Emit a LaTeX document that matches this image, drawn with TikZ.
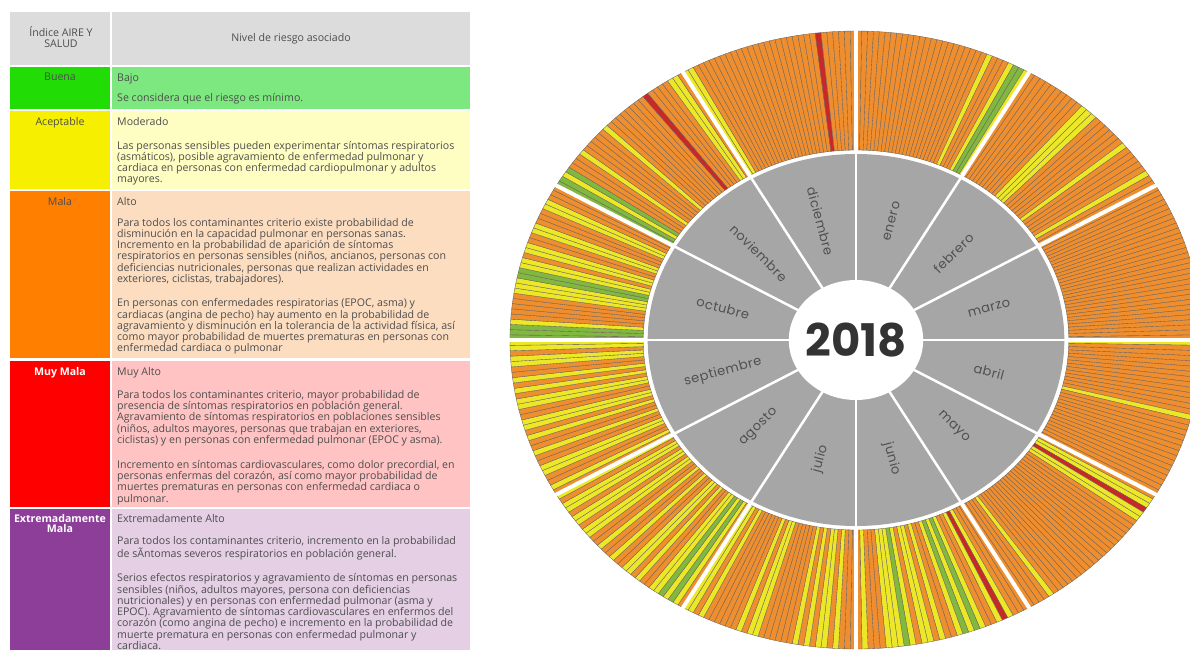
\documentclass[tikz,border=0pt]{standalone}
\usepackage{fontspec}
\setmainfont{Open Sans}
\newfontfamily\ringfont{Poppins}[LetterSpace=4]
\newfontfamily\yearfont{Poppins}

% colores de la tabla
\definecolor{headgray}{HTML}{DCDCDC}
\definecolor{bodytext}{HTML}{4D4D4D}
\definecolor{buenaA}{HTML}{22DC06}
\definecolor{buenaB}{HTML}{7DE87F}
\definecolor{aceptA}{HTML}{F6EF00}
\definecolor{aceptB}{HTML}{FFFEC2}
\definecolor{malaA}{HTML}{FF7F00}
\definecolor{malaB}{HTML}{FDDDC0}
\definecolor{muyA}{HTML}{FF0000}
\definecolor{muyB}{HTML}{FFC3C3}
\definecolor{extA}{HTML}{8C3E98}
\definecolor{extB}{HTML}{E4CFE4}
% colores del anillo
\definecolor{dayo}{HTML}{EF8E2F}
\definecolor{dayy}{HTML}{ECE828}
\definecolor{dayg}{HTML}{80B840}
\definecolor{dayr}{HTML}{C82828}
\definecolor{barline}{HTML}{6E645A}
\definecolor{ringgray}{HTML}{A6A6A6}
\definecolor{monthtext}{HTML}{505050}
\definecolor{yeartext}{HTML}{333333}

% el ancla base de un texto de varias lineas es la ultima linea
\tikzset{
	txt/.style={inner sep=0pt, anchor=base west, align=left, text=bodytext,
		font=\fontsize{10.6}{11.3}\selectfont},
	tag/.style={inner sep=0pt, anchor=base, align=center, text=bodytext,
		font=\fontsize{10.6}{10.7}\selectfont},
	month/.style={inner sep=0pt, text=monthtext, font=\ringfont\fontsize{13}{13}\selectfont},
	daybar/.style={draw=barline, line width=0.35pt},
}

\begin{document}
\begin{tikzpicture}[x=1pt, y=1pt]
	\useasboundingbox (0,0) rectangle (1190,-649);
	\clip (0,0) rectangle (1190,-649);

	% celdas de la tabla
	\fill [headgray] (  10, -12 ) rectangle ( 110, -65 );
	\fill [headgray] ( 112, -12 ) rectangle ( 470, -65 );
	\fill [buenaA]   (  10, -67 ) rectangle ( 110, -109 );
	\fill [buenaB]   ( 112, -67 ) rectangle ( 470, -109 );
	\fill [aceptA]   (  10, -111 ) rectangle ( 110, -189 );
	\fill [aceptB]   ( 112, -111 ) rectangle ( 470, -189 );
	\fill [malaA]    (  10, -191 ) rectangle ( 110, -358 );
	\fill [malaB]    ( 112, -191 ) rectangle ( 470, -358 );
	\fill [muyA]     (  10, -361 ) rectangle ( 110, -507 );
	\fill [muyB]     ( 112, -361 ) rectangle ( 470, -507 );
	\fill [extA]     (  10, -509 ) rectangle ( 110, -660 );
	\fill [extB]     ( 112, -509 ) rectangle ( 470, -660 );

	% encabezado
	\node [tag] (h-indice) at ( 61, -47.5 ) {Índice AIRE Y\\SALUD};
	\node [tag] (h-nivel) at ( 291, -41 ) {Nivel de riesgo asociado};

	% Buena
	\node [tag] (l-buena) at ( 60, -80.7 ) {Buena};
	\node [txt] (t-bajo) at ( 117, -81.7 ) {Bajo};
	\node [txt] (p-bajo) at ( 117, -101.7 ) {Se considera que el riesgo es mínimo.};

	% Aceptable
	\node [tag] (l-acept) at ( 60, -125 ) {Aceptable};
	\node [txt] (t-moderado) at ( 117, -125 ) {Moderado};
	\node [txt] (p-moderado) at ( 117, -182.9 ) {Las personas sensibles pueden experimentar síntomas respiratorios\\(asmáticos), posible agravamiento de enfermedad pulmonar y\\cardiaca en personas con enfermedad cardiopulmonar y adultos\\mayores.};

	% Mala
	\node [tag] (l-mala) at ( 60, -205 ) {Mala};
	\node [txt] (t-alto) at ( 117, -205 ) {Alto};
	\node [txt] (p-alto-a) at ( 117, -282.5 ) {Para todos los contaminantes criterio existe probabilidad de\\disminución en la capacidad pulmonar en personas sanas.\\Incremento en la probabilidad de aparición de síntomas\\respiratorios en personas sensibles (niños, ancianos, personas con\\deficiencias nutricionales, personas que realizan actividades en\\exteriores, ciclistas, trabajadores).};
	\node [txt] (p-alto-b) at ( 117, -351.9 ) {En personas con enfermedades respiratorias (EPOC, asma) y\\cardiacas (angina de pecho) hay aumento en la probabilidad de\\agravamiento y disminución en la tolerancia de la actividad física, así\\como mayor probabilidad de muertes prematuras en personas con\\enfermedad cardiaca o pulmonar};

	% Muy Mala
	\node [tag, text=white] (l-muymala) at ( 60, -375 ) {\bfseries Muy Mala};
	\node [txt] (t-muyalto) at ( 117, -375 ) {Muy Alto};
	\node [txt] (p-muyalto-a) at ( 117, -443.5 ) {Para todos los contaminantes criterio, mayor probabilidad de\\presencia de síntomas respiratorios en población general.\\Agravamiento de síntomas respiratorios en poblaciones sensibles\\(niños, adultos mayores, personas que trabajan en exteriores,\\ciclistas) y en personas con enfermedad pulmonar (EPOC y asma).};
	\node [txt] (p-muyalto-b) at ( 117, -502.2 ) {Incremento en síntomas cardiovasculares, como dolor precordial, en\\personas enfermas del corazón, así como mayor probabilidad de\\muertes prematuras en personas con enfermedad cardiaca o\\pulmonar.};

	% Extremadamente Mala
	\node [tag, text=white, font=\bfseries\fontsize{10.6}{10.7}\selectfont] (l-extmala) at ( 60, -532.7 ) {Extremadamente\\Mala};
	\node [txt] (t-extalto) at ( 117, -522 ) {Extremadamente Alto};
	\node [txt] (p-extalto-a) at ( 117, -557.3 ) {Para todos los contaminantes criterio, incremento en la probabilidad\\de sÃntomas severos respiratorios en población general.};
	\node [txt] (p-extalto-b) at ( 117, -649.5 ) {Serios efectos respiratorios y agravamiento de síntomas en personas\\sensibles (niños, adultos mayores, persona con deficiencias\\nutricionales) y en personas con enfermedad pulmonar (asma y\\EPOC). Agravamiento de síntomas cardiovasculares en enfermos del\\corazón (como angina de pecho) e incremento en la probabilidad de\\muerte prematura en personas con enfermedad pulmonar y\\cardiaca.};

	% anillo de 2018
	\begin{scope}[shift={(856,-340)}, xscale=1.12]
		% un sector por dia
		\foreach \mname/\ndays/\mdata [count=\m from 0] in {
			enero/31/{o,o,o,o,o,o,o,o,o,o,o,o,o,o,o,o,o,o,o,o,o,o,o,y,o,o,o,y,g,g,y},
			febrero/28/{o,o,o,o,o,o,o,o,o,o,y,y,y,o,o,o,o,o,o,y,o,o,o,o,o,y,o,o},
			marzo/31/{o,o,o,o,o,o,o,o,o,o,o,o,o,o,o,o,o,o,o,o,o,o,o,o,o,o,o,o,o,o,o},
			abril/30/{y,o,o,o,o,o,o,o,o,o,o,o,o,o,y,o,o,o,o,o,o,o,o,o,o,o,o,o,o,o},
			mayo/31/{o,y,y,r,y,y,o,o,o,o,o,o,o,o,o,o,o,o,o,o,o,o,o,o,o,o,y,o,o,o,o},
			junio/30/{o,o,o,y,r,y,o,o,y,g,y,g,y,o,o,y,o,y,y,o,y,g,y,y,y,o,o,o,y,o},
			julio/31/{o,o,o,y,o,y,y,o,y,o,y,o,o,o,o,o,o,y,y,o,y,o,o,o,o,o,o,y,o,y,y},
			agosto/31/{o,y,g,y,g,y,y,o,o,y,o,y,y,o,o,y,o,o,y,o,o,y,y,o,y,y,o,y,y,o,y},
			septiembre/30/{o,y,o,o,y,y,o,o,y,o,o,y,o,y,y,o,o,y,y,o,y,o,y,o,o,y,y,o,y,y},
			octubre/31/{g,g,g,y,o,o,o,o,o,y,y,y,g,g,y,y,o,y,y,o,o,y,y,o,o,o,y,y,o,o,o},
			noviembre/30/{g,g,y,g,o,o,o,y,o,o,o,o,o,y,o,o,o,o,o,o,o,o,r,o,o,o,o,y,y,o},
			diciembre/31/{y,y,o,o,o,o,o,o,o,o,o,o,o,o,o,o,o,o,o,o,o,o,o,o,r,o,o,o,o,o,o}} {
			\pgfmathsetmacro\mstart{90-30*\m}
			\pgfmathsetmacro\dw{30/\ndays}
			\foreach \c [count=\d] in \mdata {
				\pgfmathsetmacro\aa{\mstart-(\d-1)*\dw}
				\pgfmathsetmacro\bb{\aa-\dw}
				\filldraw [daybar, fill=day\c] (\aa:190) -- (\aa:309) arc [start angle=\aa, end angle=\bb, radius=309] -- (\bb:190) arc [start angle=\bb, end angle=\aa, radius=190] -- cycle;
			}
		}
		% separacion entre meses
		\foreach \k in {0,...,11}
			\draw [white, line width=4pt] ({30*\k}:186) -- ({30*\k}:314);

		% anillo gris
		\fill [ringgray] (0,0) circle [radius=186];
		\foreach \k in {0,...,11}
			\draw [white, line width=2.5pt] ({30*\k}:59) -- ({30*\k}:187);
		\fill [white] (0,0) circle [radius=60];

		% nombres de los meses
		\foreach \mname [count=\m from 0] in {enero,febrero,marzo,abril,mayo,junio,julio,agosto,septiembre,octubre,noviembre,diciembre} {
			\pgfmathsetmacro\mid{75-30*\m}
			\pgfmathsetmacro\rot{ifthenelse(\mid<-90,\mid+180,\mid)}
			\node [month, rotate=\rot] (mes-\mname) at (\mid:123) {\mname};
		}
		\node [text=yeartext, font=\yearfont\bfseries\fontsize{45}{45}\selectfont] (anio) at (0,0) {2018};
	\end{scope}
\end{tikzpicture}
\end{document}
